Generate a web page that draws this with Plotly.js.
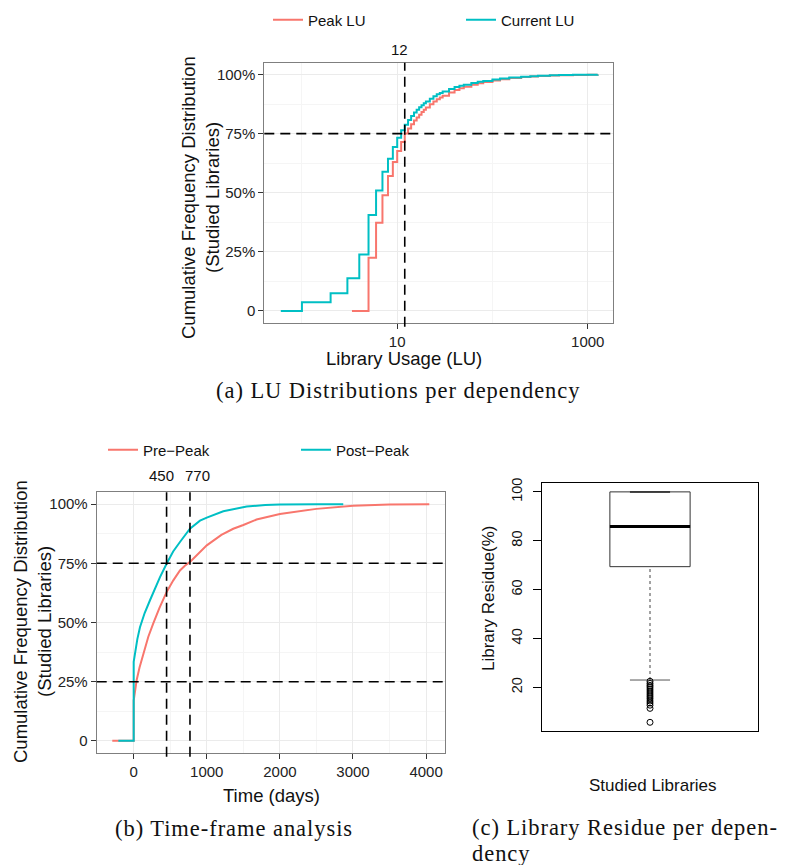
<!DOCTYPE html>
<html><head><meta charset="utf-8">
<script src="https://cdn.plot.ly/plotly-3.0.1.min.js"></script>
<style>
html,body{margin:0;padding:0;background:#fff}#chart{width:798px;height:865px}
text.annotation-text[data-unformatted^="(a)"],
text.annotation-text[data-unformatted^="(b)"],
text.annotation-text[data-unformatted^="(c)"],
text.annotation-text[data-unformatted="dency"]{letter-spacing:0.95px}
</style>
</head><body><div id="chart"></div>
<script>
// ---------- (a) LU distributions ----------
const luLegend = ['Peak LU', 'Current LU'];
const luPeakX = [3.35, 5, 6, 7, 8, 9, 10, 11, 12, 13, 14, 15, 16, 17, 18, 19, 20, 22, 24, 26, 28, 30, 35, 40, 45, 50, 60, 70, 80, 100, 120, 150, 200, 250, 300, 400, 500, 700, 1000, 1270];
const luPeakY = [0, 0.225, 0.373, 0.489, 0.571, 0.63, 0.676, 0.714, 0.75, 0.772, 0.79, 0.805, 0.818, 0.83, 0.841, 0.851, 0.86, 0.874, 0.886, 0.895, 0.903, 0.91, 0.924, 0.935, 0.942, 0.948, 0.957, 0.963, 0.968, 0.975, 0.98, 0.985, 0.99, 0.992, 0.994, 0.996, 0.997, 0.998, 0.999, 1.0];
const luCurrentX = [0.6, 1, 2, 3, 4, 5, 6, 7, 8, 9, 10, 11, 12, 13, 14, 15, 16, 17, 18, 19, 20, 22, 24, 26, 28, 30, 35, 40, 45, 50, 60, 70, 80, 100, 120, 150, 200, 250, 300, 400, 500, 700, 1000, 1270];
const luCurrentY = [0, 0.037, 0.075, 0.138, 0.239, 0.406, 0.509, 0.589, 0.644, 0.693, 0.733, 0.764, 0.788, 0.808, 0.825, 0.839, 0.851, 0.861, 0.87, 0.878, 0.886, 0.898, 0.908, 0.916, 0.922, 0.928, 0.939, 0.947, 0.953, 0.957, 0.964, 0.969, 0.973, 0.979, 0.983, 0.987, 0.991, 0.993, 0.995, 0.997, 0.998, 0.999, 0.9995, 1.0];
const luRefX = 12;
const luRefY = 0.75;
const luTickVals = [10, 1000];
const luMinorVals = [1, 100];

// ---------- (b) time-frame ----------
const timeLegend = ['Pre\u2212Peak', 'Post\u2212Peak'];
const preDays = [-293, 0, 0, 20, 41, 80, 131, 200, 268, 350, 451, 542, 633, 700, 770, 850, 1000, 1200, 1362, 1500, 1681, 2000, 2138, 2500, 3000, 3500, 4044];
const preCum  = [0, 0, 0.17, 0.22, 0.257, 0.31, 0.37, 0.44, 0.496, 0.56, 0.629, 0.678, 0.72, 0.74, 0.756, 0.78, 0.826, 0.87, 0.896, 0.912, 0.935, 0.958, 0.964, 0.98, 0.993, 0.998, 1.0];
const postDays = [-210, 0, 0, 20, 50, 86, 150, 223, 300, 360, 455, 540, 633, 770, 907, 1000, 1226, 1400, 1546, 1800, 2000, 2500, 2867];
const postCum  = [0, 0, 0.334, 0.38, 0.43, 0.48, 0.54, 0.594, 0.65, 0.692, 0.751, 0.8, 0.84, 0.896, 0.93, 0.943, 0.97, 0.982, 0.99, 0.996, 0.998, 0.999, 1.0];
const timeRefX = [450, 770];
const timeRefY = [0.75, 0.25];
const timeTickVals = [0, 1000, 2000, 3000, 4000];

// shared CDF ticks
const cdfTickVals = [0, 0.25, 0.5, 0.75, 1];
const cdfTickText = ['0', '25%', '50%', '75%', '100%'];

// ---------- (c) library residue ----------
const residueBox = [69.4, 85.8, 100];        // Q1, median, Q3
const residueWhiskers = [23, 100];           // lower, upper
const residueOutliers = [22.5, 21.6, 20.8, 20.1, 19.3, 18.5, 17.7, 16.9, 16.1, 15.3, 14.4, 13.6, 12.7, 11.4, 5.7];
const residueTickVals = [20, 40, 60, 80, 100];

// ---------- styling ----------
const FONT = 'Liberation Sans, Arial, sans-serif';
const SERIF = 'Liberation Serif, Times New Roman, serif';
const RED = '#F8766D', CYAN = '#00BFC4';
const W = 798, H = 865;
const px = p => p / W;
const py = p => 1 - p / H;

const ggAxis = {
  ticks: 'outside', ticklen: 5, tickwidth: 1, tickcolor: '#333',
  showline: true, mirror: true, linecolor: '#7f7f7f', linewidth: 1,
  zeroline: false, showgrid: true, gridcolor: '#ebebeb', gridwidth: 1,
  tickfont: {family: FONT, size: 15, color: '#222'}
};
const dash = {color: '#000', width: 1.6, dash: '10px,6px'};

const traces = [
  {x: luPeakX, y: luPeakY, name: luLegend[0], type: 'scatter', mode: 'lines', line: {color: RED, width: 2, shape: 'hv'}, xaxis: 'x', yaxis: 'y', legend: 'legend'},
  {x: luCurrentX, y: luCurrentY, name: luLegend[1], type: 'scatter', mode: 'lines', line: {color: CYAN, width: 2, shape: 'hv'}, xaxis: 'x', yaxis: 'y', legend: 'legend'},
  {x: preDays, y: preCum, name: timeLegend[0], type: 'scatter', mode: 'lines', line: {color: RED, width: 2}, xaxis: 'x2', yaxis: 'y2', legend: 'legend2'},
  {x: postDays, y: postCum, name: timeLegend[1], type: 'scatter', mode: 'lines', line: {color: CYAN, width: 2}, xaxis: 'x2', yaxis: 'y2', legend: 'legend2'}
];

// boxplot built from its statistics (base R style)
const bc = 1, bh = 0.2, ch = 0.1;
const boxLine = {color: '#333', width: 1};
const bx = {xaxis: 'x3', yaxis: 'y3', type: 'scatter', mode: 'lines', showlegend: false, hoverinfo: 'skip'};
traces.push(Object.assign({}, bx, {x: [bc - bh, bc + bh, bc + bh, bc - bh, bc - bh], y: [residueBox[0], residueBox[0], residueBox[2], residueBox[2], residueBox[0]], line: boxLine}));
traces.push(Object.assign({}, bx, {x: [bc - bh, bc + bh], y: [residueBox[1], residueBox[1]], line: {color: '#000', width: 3}}));
traces.push(Object.assign({}, bx, {x: [bc, bc], y: [residueWhiskers[0], residueBox[0]], line: {color: '#444', width: 1, dash: '3px,3px'}}));
traces.push(Object.assign({}, bx, {x: [bc - ch, bc + ch], y: [residueWhiskers[0], residueWhiskers[0]], line: {color: '#555', width: 1}}));
traces.push(Object.assign({}, bx, {x: [bc - ch, bc + ch], y: [residueWhiskers[1], residueWhiskers[1]], line: {color: '#222', width: 1.5}}));
traces.push({xaxis: 'x3', yaxis: 'y3', type: 'scatter', mode: 'markers', showlegend: false,
  x: residueOutliers.map(() => bc), y: residueOutliers,
  marker: {symbol: 'circle-open', size: 6, color: '#000', line: {width: 1, color: '#000'}}});

const shapes = [
  {type: 'line', xref: 'x domain', yref: 'y', x0: 0, x1: 1, y0: luRefY, y1: luRefY, line: dash},
  {type: 'line', xref: 'x', yref: 'y domain', x0: luRefX, x1: luRefX, y0: -0.016, y1: 1, line: dash},
  {type: 'line', xref: 'x2 domain', yref: 'y2', x0: 0, x1: 1, y0: timeRefY[0], y1: timeRefY[0], line: dash},
  {type: 'line', xref: 'x2 domain', yref: 'y2', x0: 0, x1: 1.009, y0: timeRefY[1], y1: timeRefY[1], line: dash},
  {type: 'line', xref: 'x2', yref: 'y2 domain', x0: timeRefX[0], x1: timeRefX[0], y0: -0.016, y1: 1, line: dash},
  {type: 'line', xref: 'x2', yref: 'y2 domain', x0: timeRefX[1], x1: timeRefX[1], y0: -0.016, y1: 1, line: dash}
];

const tf = {family: FONT, size: 15, color: '#111'};
const titleFont = {family: FONT, size: 18.5, color: '#111'};
const capFont = {family: SERIF, size: 22.5, color: '#111'};
const C = {showarrow: false, xanchor: 'center', yanchor: 'middle'};
const ann = o => Object.assign({}, C, o);
const annotations = [
  // reference labels
  ann({xref: 'x', yref: 'paper', x: Math.log10(luRefX), y: py(49), text: String(luRefX), xshift: -5, font: tf}),
  ann({xref: 'x2', yref: 'paper', x: timeRefX[0], y: py(476), text: String(timeRefX[0]), xshift: -5, font: tf}),
  ann({xref: 'x2', yref: 'paper', x: timeRefX[1], y: py(476), text: String(timeRefX[1]), xshift: 8, font: tf}),
  // axis titles (a)
  ann({xref: 'paper', yref: 'paper', x: px(404), y: py(359), text: 'Library Usage (LU)', font: titleFont}),
  ann({xref: 'paper', yref: 'paper', x: px(188), y: py(198), text: 'Cumulative Frequency Distribution', textangle: -90, font: titleFont}),
  ann({xref: 'paper', yref: 'paper', x: px(212), y: py(198), text: '(Studied Libraries)', textangle: -90, font: titleFont}),
  // axis titles (b)
  ann({xref: 'paper', yref: 'paper', x: px(271), y: py(795), text: 'Time (days)', font: titleFont}),
  ann({xref: 'paper', yref: 'paper', x: px(20), y: py(622), text: 'Cumulative Frequency Distribution', textangle: -90, font: titleFont}),
  ann({xref: 'paper', yref: 'paper', x: px(44), y: py(622), text: '(Studied Libraries)', textangle: -90, font: titleFont}),
  // axis titles (c)
  ann({xref: 'paper', yref: 'paper', x: px(653), y: py(785), text: 'Studied Libraries', font: {family: FONT, size: 17, color: '#111'}}),
  ann({xref: 'paper', yref: 'paper', x: px(488), y: py(598), text: 'Library Residue(%)', textangle: -90, font: {family: FONT, size: 17, color: '#111'}}),
  // captions
  ann({xref: 'paper', yref: 'paper', x: px(398), y: py(391), text: '(a) LU Distributions per dependency', font: capFont}),
  ann({xref: 'paper', yref: 'paper', x: px(234), y: py(828), text: '(b) Time-frame analysis', font: capFont}),
  ann({xref: 'paper', yref: 'paper', x: px(470), xanchor: 'left', y: py(827.5), text: '(c) Library Residue per depen-', font: capFont}),
  ann({xref: 'paper', yref: 'paper', x: px(470), xanchor: 'left', y: py(853), text: 'dency', font: capFont})
];

const legendBase = {orientation: 'h', xanchor: 'left', yanchor: 'middle', entrywidth: 148,
  font: {family: FONT, size: 15, color: '#111'}, bgcolor: 'rgba(0,0,0,0)', borderwidth: 0, traceorder: 'normal'};

const layout = {
  width: W, height: H,
  margin: {l: 0, r: 0, t: 0, b: 0},
  paper_bgcolor: '#fff', plot_bgcolor: '#fff',
  font: {family: FONT},
  showlegend: true,
  legend: Object.assign({}, legendBase, {x: px(268), y: py(20)}),
  legend2: Object.assign({}, legendBase, {x: px(103), y: py(450)}),
  xaxis: Object.assign({}, ggAxis, {type: 'log', domain: [px(264.3), px(613)], range: [-0.395, 3.265], anchor: 'y',
    tickmode: 'array', tickvals: luTickVals, ticktext: luTickVals.map(String),
    minor: {tickmode: 'array', tickvals: luMinorVals, showgrid: true, gridcolor: '#f5f5f5', ticks: ''}}),
  yaxis: Object.assign({}, ggAxis, {domain: [py(322.7), py(62.7)], range: [-0.05, 1.05], anchor: 'x',
    tickmode: 'array', tickvals: cdfTickVals, ticktext: cdfTickText,
    minor: {tickmode: 'linear', tick0: 0, dtick: 0.125, showgrid: true, gridcolor: '#f5f5f5', ticks: ''}}),
  xaxis2: Object.assign({}, ggAxis, {domain: [px(96.7), px(445.3)], range: [-506, 4263], anchor: 'y2',
    tickmode: 'array', tickvals: timeTickVals, ticktext: timeTickVals.map(String),
    minor: {tickmode: 'linear', tick0: 0, dtick: 500, showgrid: true, gridcolor: '#f5f5f5', ticks: ''}}),
  yaxis2: Object.assign({}, ggAxis, {domain: [py(752.7), py(492.3)], range: [-0.05, 1.05], anchor: 'x2',
    tickmode: 'array', tickvals: cdfTickVals, ticktext: cdfTickText,
    minor: {tickmode: 'linear', tick0: 0, dtick: 0.125, showgrid: true, gridcolor: '#f5f5f5', ticks: ''}}),
  xaxis3: {domain: [px(541.7), px(758.3)], range: [0.46, 1.54], anchor: 'y3', showticklabels: false, ticks: '',
    showgrid: false, zeroline: false, showline: true, mirror: true, linecolor: '#000', linewidth: 1},
  yaxis3: {domain: [py(731), py(482.7)], range: [2.14, 103.76], anchor: 'x3', tickmode: 'array', tickvals: residueTickVals,
    ticktext: residueTickVals.map(String), tickangle: -90, ticks: 'outside', ticklen: 8, tickcolor: '#000',
    ticklabelstandoff: 5,
    tickfont: {family: FONT, size: 14.5, color: '#111'},
    showgrid: false, zeroline: false, showline: true, mirror: true, linecolor: '#000', linewidth: 1},
  shapes: shapes,
  annotations: annotations
};

Plotly.newPlot('chart', traces, layout, {displayModeBar: false, staticPlot: true});
</script>
</body></html>
